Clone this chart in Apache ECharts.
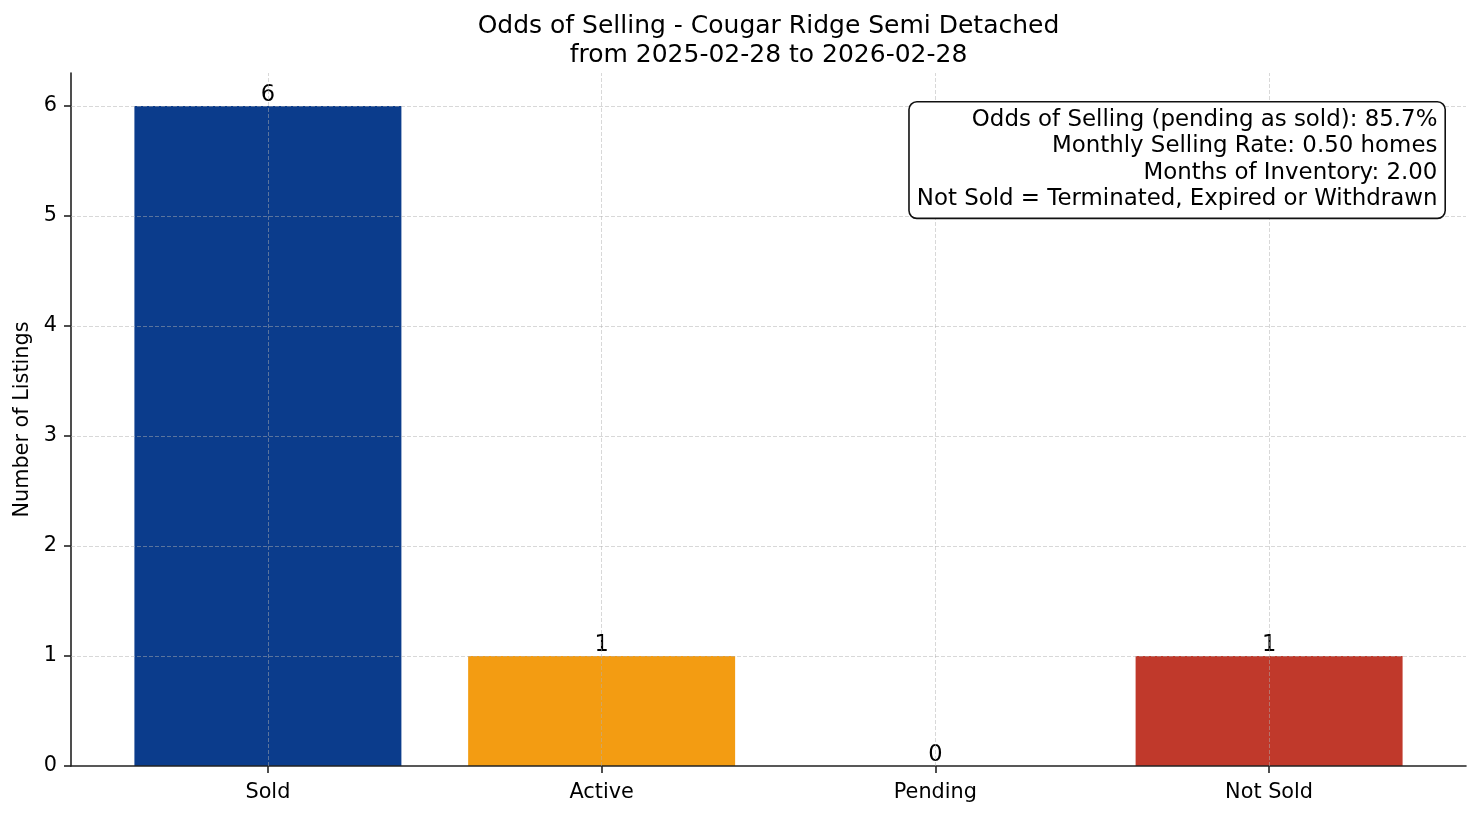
<!DOCTYPE html>
<html>
<head>
<meta charset="utf-8">
<script src="https://cdn.jsdelivr.net/npm/echarts@6/dist/echarts.min.js"></script>
<style>
html,body{margin:0;padding:0;background:#fff;}
#chart{width:1481px;height:816px;}
</style>
</head>
<body>
<div id="chart"></div>
<script>
const categories = ['Sold', 'Active', 'Pending', 'Not Sold'];
const counts = [6, 1, 0, 1];
const barColors = ['#0b3c8c', '#f39c12', '#27ae60', '#c0392b'];
const yTicks = [0, 1, 2, 3, 4, 5, 6];
const titleLines = ['Odds of Selling - Cougar Ridge Semi Detached', 'from 2025-02-28 to 2026-02-28'];
const boxLines = [
  'Odds of Selling (pending as sold): 85.7%',
  'Monthly Selling Rate: 0.50 homes',
  'Months of Inventory: 2.00',
  'Not Sold = Terminated, Expired or Withdrawn'
];
const yName = 'Number of Listings';

const FONT = 'DejaVu Sans';
const positions = categories.map((c, i) => i);
const chart = echarts.init(document.getElementById('chart'));
const gridLine = { color: 'rgba(176,176,176,0.55)', width: 0.9, type: [4, 2] };
const option = {
  animation: false,
  backgroundColor: '#ffffff',
  textStyle: { fontFamily: FONT },
  title: {
    text: titleLines.join('\n'),
    left: 768.5,
    top: 12,
    textAlign: 'center',
    padding: 0,
    textStyle: { fontFamily: FONT, fontSize: 25, fontWeight: 'normal', color: '#000', lineHeight: 29 }
  },
  graphic: [{
    type: 'text',
    right: 35,
    top: 101,
    z: 20,
    style: {
      text: boxLines.join('\n'),
      fill: '#000',
      fontFamily: FONT,
      fontSize: 22.9,
      lineHeight: 26.5,
      align: 'right',
      textAlign: 'right',
      backgroundColor: '#ffffff',
      borderColor: '#111',
      borderWidth: 1.6,
      borderRadius: 7,
      padding: [4, 7, 5, 7]
    }
  }],
  grid: { left: 71, right: 15, top: 73, bottom: 50, containLabel: false },
  xAxis: {
    type: 'value',
    min: -0.59,
    max: 3.59,
    z: 3,
    axisLine: { show: true, onZero: false, lineStyle: { color: '#222', width: 1.6 } },
    axisTick: { show: true, length: 7, customValues: positions, lineStyle: { color: '#222', width: 1.6 } },
    axisLabel: {
      show: true, customValues: positions, margin: 16,
      formatter: v => categories[Math.round(v)] || '',
      fontFamily: FONT, fontSize: 20.8, color: '#000'
    },
    splitLine: { show: false }
  },
  yAxis: {
    type: 'value',
    min: 0,
    max: 6.3,
    interval: 1,
    z: 3,
    name: yName,
    nameLocation: 'middle',
    nameGap: 38,
    nameRotate: 90,
    nameTextStyle: { fontFamily: FONT, fontSize: 20.8, color: '#000' },
    axisLine: { show: true, onZero: false, lineStyle: { color: '#222', width: 1.6 } },
    axisTick: { show: true, length: 7, customValues: yTicks, lineStyle: { color: '#222', width: 1.6 } },
    axisLabel: { show: true, customValues: yTicks, margin: 14, fontFamily: FONT, fontSize: 20.8, color: '#000' },
    splitLine: { show: false }
  },
  series: [{
    type: 'bar',
    barWidth: '80%',
    z: 2,
    data: counts.map((v, i) => ({ value: [positions[i], v], itemStyle: { color: barColors[i] } })),
    label: {
      show: true, position: 'top', distance: -1,
      formatter: p => String(p.value[1]),
      fontFamily: FONT, fontSize: 22.5, color: '#000'
    },
    markLine: {
      silent: true,
      z: 5,
      symbol: 'none',
      label: { show: false },
      lineStyle: gridLine,
      data: positions.map(p => ({ xAxis: p })).concat(yTicks.filter(t => t > 0).map(t => ({ yAxis: t })))
    }
  }]
};
chart.setOption(option);
</script>
</body>
</html>
